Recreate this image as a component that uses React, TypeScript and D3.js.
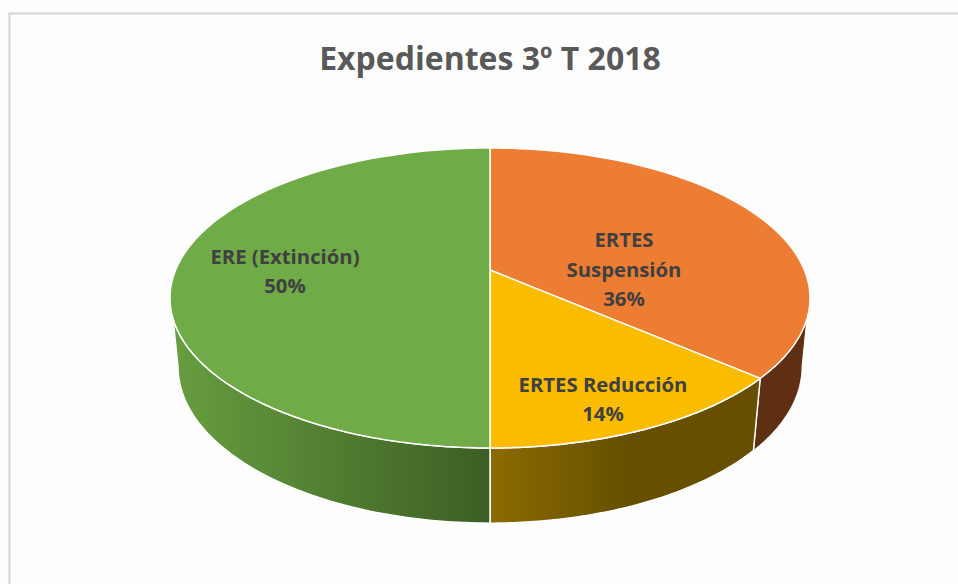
import React from "react";
import * as d3 from "d3";

const categories = ["ERTES Suspensión", "ERTES Reducción", "ERE (Extinción)"];
const values = [36.4, 13.6, 50];
const percentLabels = ["36%", "14%", "50%"];
const titleText = "Expedientes 3º T 2018";

const topFill = ["#EC7D33", "#FBBC00", "#6FAB47"];

const CX = 490;
const K = 0.1866;
const topRim = { y: 270, a: 144.8, b: 314.4 };
const botRim = { y: 337.5, a: 151, b: 306.5 };
type Rim = typeof topRim;

const proj = (r: Rim, t: number): [number, number] => {
  const s = Math.sin(t), c = Math.cos(t), d = 1 + K * c;
  return [CX + (r.b * s) / d, r.y - (r.a * c) / d];
};
const arcPts = (r: Rim, t0: number, t1: number) => {
  const n = 80;
  const sc = d3.scaleLinear().domain([0, n]).range([t0, t1]);
  return d3.range(n + 1).map((i) => proj(r, sc(i)));
};
const deg = (x: number) => (x * Math.PI) / 180;
const line = d3.line();

const labelLayout = [
  { x: 624, ys: [240, 270, 299], lines: ["ERTES", "Suspensión", percentLabels[0]] },
  { x: 603, ys: [385, 414], lines: [categories[1], percentLabels[1]] },
  { x: 285, ys: [257, 286], lines: [categories[2], percentLabels[2]] },
];

export default function App() {
  const arcs = d3.pie<number>().sort(null)(values);
  const silR = deg(108.5), silL = deg(251.5);
  const botR = deg(101), botL = deg(259);
  const [a0, a1, a2] = arcs;

  const wall = (t0: number, t1: number, b0: number, b1: number) =>
    (line([...arcPts(topRim, t0, t1), ...arcPts(botRim, b1, b0)]) as string) + "Z";

  return (
    <svg
      width={958}
      height={584}
      style={{ position: "fixed", left: 0, top: 0, background: "#fefefe" }}
      fontFamily="'Open Sans', sans-serif"
    >
      <defs>
        <linearGradient id="gGreen" gradientUnits="userSpaceOnUse" x1={172} x2={490} y1={0} y2={0}>
          <stop offset="0" stopColor="#679E40" />
          <stop offset="1" stopColor="#3C5E23" />
        </linearGradient>
        <linearGradient id="gYellow" gradientUnits="userSpaceOnUse" x1={490} x2={760} y1={0} y2={0}>
          <stop offset="0" stopColor="#8C6B00" />
          <stop offset="0.5" stopColor="#665000" />
          <stop offset="1" stopColor="#665000" />
        </linearGradient>
      </defs>
      <path d="M9.5 584V13.5H958" fill="none" stroke="#D9D9D9" strokeWidth={2.5} />
      <text x={490} y={70} textAnchor="middle" fontSize={32} fontWeight={700} fill="#595959">
        {titleText}
      </text>

      <path d={wall(a0.endAngle, silR, a0.endAngle, botR)} fill="#5F2F14" stroke="#fff" strokeWidth={1} />
      <path d={wall(a1.startAngle, a1.endAngle, a1.startAngle, a1.endAngle)} fill="url(#gYellow)" stroke="#fff" strokeWidth={1.5} />
      <path d={wall(a2.startAngle, silL, a2.startAngle, botL)} fill="url(#gGreen)" stroke="#fff" strokeWidth={1.5} />

      {arcs.map((d, i) => (
        <path
          key={i}
          d={(line([[CX, topRim.y], ...arcPts(topRim, d.startAngle, d.endAngle)]) as string) + "Z"}
          fill={topFill[i]}
          stroke="#fff"
          strokeWidth={1.5}
          strokeLinejoin="round"
        />
      ))}

      {labelLayout.map((l, i) =>
        l.lines.map((t, j) => (
          <text key={`${i}-${j}`} x={l.x} y={l.ys[j] + 7} textAnchor="middle" fontSize={20.3} fontWeight={700} fill="#404040">
            {t}
          </text>
        ))
      )}
    </svg>
  );
}
